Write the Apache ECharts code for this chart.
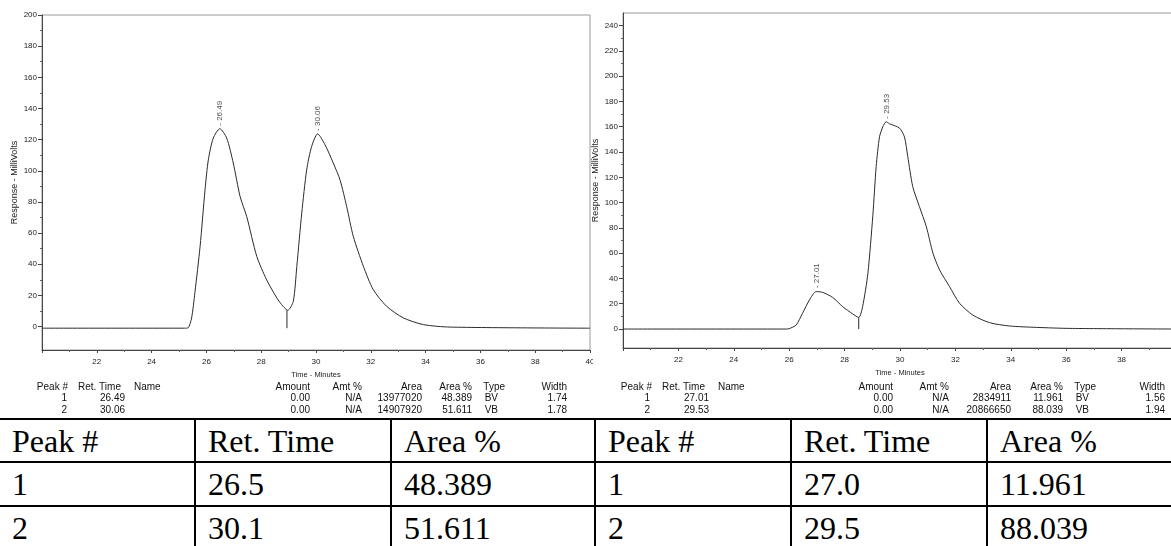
<!DOCTYPE html>
<html><head><meta charset="utf-8">
<script src="https://cdn.jsdelivr.net/npm/echarts@6/dist/echarts.min.js"></script>
<style>
html,body{margin:0;padding:0;background:#fff;overflow:hidden;width:1171px;height:546px;position:relative;}
#c1{position:absolute;left:0;top:0;width:593px;height:418px;overflow:hidden;}
#c2{position:absolute;left:563px;top:0;width:650px;height:418px;}
#tbl{position:absolute;left:-2px;top:418px;border-collapse:collapse;table-layout:fixed;font-family:'Liberation Serif','Times New Roman',serif;font-size:32px;color:#000;}
#tbl td{border:2px solid #000;padding:0 0 0 12px;white-space:nowrap;overflow:hidden;vertical-align:middle;line-height:1;}
</style></head>
<body>
<div id="c1"></div>
<div id="c2"></div>
<table id="tbl"></table>
<script>
// ---------- data: chromatogram 1 (left) ----------
const timeA = [20, 25.2, 25.33, 25.46, 25.58, 25.77, 25.95, 26.07, 26.25, 26.49, 26.74, 26.98, 27.23, 27.47, 27.84, 28.2, 28.57, 28.8, 28.97, 29.17, 29.3, 29.48, 29.66, 29.84, 30.06, 30.33, 30.63, 30.88, 31.12, 31.36, 31.73, 32.09, 32.58, 33.19, 33.92, 34.9, 40];
const respA = [-1, -1, -0.8, 5.6, 21.8, 51.5, 87.8, 107, 121, 127, 121, 105, 83.5, 70.7, 45, 30, 18.4, 13, 10.5, 16.2, 38.7, 72.9, 100.6, 115.6, 123.7, 116.7, 105, 94, 77, 58, 38.7, 23.7, 13, 5.6, 1.3, -0.3, -1];
const dropTimeA = 28.94, dropRespA = 10.5, baseA = -1;
const peakTimeA = [26.49, 30.06];
const peakRespA = [127, 123.7];

// ---------- data: chromatogram 2 (right) ----------
const timeB = [20, 25.9, 26.0, 26.25, 26.48, 26.73, 26.97, 27.21, 27.57, 27.93, 28.29, 28.51, 28.65, 28.84, 29.02, 29.14, 29.26, 29.38, 29.5, 29.62, 29.98, 30.16, 30.28, 30.46, 30.7, 30.95, 31.19, 31.43, 31.79, 32.15, 32.63, 33.24, 33.96, 34.93, 36.13, 40];
const respB = [0, 0, 0.3, 3.2, 12.4, 23, 29.6, 29, 25, 17.7, 12, 9.2, 17.7, 44, 90, 128.6, 152, 160, 164, 162.4, 159, 152, 136.5, 112.7, 96.9, 81, 60, 46.7, 33.5, 20.4, 11, 5, 2.4, 1.3, 0.5, 0];
const dropTimeB = 28.51, dropRespB = 9.2, baseB = 0;
const peakTimeB = [27.01, 29.53];
const peakRespB = [30, 164];

// ---------- printout tables ----------
const printHeaders = ['Peak #', 'Ret. Time', 'Name', 'Amount', 'Amt %', 'Area', 'Area %', 'Type', 'Width'];
const printPeak = ['1', '2'];
const printRetA = ['26.49', '30.06'];
const printAmountA = ['0.00', '0.00'];
const printAmtPctA = ['N/A', 'N/A'];
const printAreaA = ['13977020', '14907920'];
const printAreaPctA = ['48.389', '51.611'];
const printTypeA = ['BV', 'VB'];
const printWidthA = ['1.74', '1.78'];
const printRetB = ['27.01', '29.53'];
const printAmountB = ['0.00', '0.00'];
const printAmtPctB = ['N/A', 'N/A'];
const printAreaB = ['2834911', '20866650'];
const printAreaPctB = ['11.961', '88.039'];
const printTypeB = ['BV', 'VB'];
const printWidthB = ['1.56', '1.94'];

// ---------- summary table ----------
const tblHeader = ['Peak #', 'Ret. Time', 'Area %'];
const tblPeak = ['1', '2'];
const tblRetA = ['26.5', '30.1'];
const tblAreaA = ['48.389', '51.611'];
const tblRetB = ['27.0', '29.5'];
const tblAreaB = ['11.961', '88.039'];

const FONT = "'Liberation Sans', Arial, sans-serif";
const INK = '#222';

function txt(text, x, y, align, size) {
  return {type: 'text', x: x, y: y, silent: true,
    style: {text: text, font: (size || 10) + 'px ' + FONT, fill: '#111',
      align: align, textAlign: align, verticalAlign: 'middle', textVerticalAlign: 'middle'}};
}

function printout(cfg) {
  const g = [];
  const hx = cfg.hx, vx = cfg.vx, ha = ['right','left','left','right','right','right','right','right','right'];
  printHeaders.forEach((h, i) => g.push(txt(h, hx[i], 387, ha[i])));
  const cols = [printPeak, cfg.ret, null, cfg.amount, cfg.amtPct, cfg.area, cfg.areaPct, cfg.type, cfg.width];
  [398.5, 410].forEach((y, r) => {
    cols.forEach((col, i) => { if (col) g.push(txt(col[r], vx[i], y, 'right')); });
  });
  return g;
}

function makeOption(c) {
  const line = c.time.map((t, i) => [t, c.resp[i]]);
  const peaks = c.peakTime.map((t, i) => [t, c.peakResp[i]]);
  return {
    animation: false,
    textStyle: {fontFamily: FONT},
    grid: [
      {left: c.left, top: c.top, width: c.width, height: c.height, show: true, borderColor: '#9a9a9a', borderWidth: 1,
        containLabel: false, outerBoundsMode: 'none'},
      {left: c.left, top: c.axTop, width: c.width, height: c.axHeight, containLabel: false, outerBoundsMode: 'none'}
    ],
    xAxis: [
      {gridIndex: 0, type: 'value', min: 20, max: 40, interval: 2,
        axisLine: {show: true, onZero: false, lineStyle: {color: '#444', width: 1}},
        axisTick: {show: true, length: 3, lineStyle: {color: '#444'}},
        minorTick: {show: true, splitNumber: 2, length: 2, lineStyle: {color: '#666'}},
        splitLine: {show: false},
        axisLabel: {showMinLabel: false, fontSize: 8, color: INK, margin: 8},
        name: 'Time - Minutes', nameLocation: 'middle', nameGap: 21, nameMoveOverlap: false,
        nameTextStyle: {fontSize: 7.5, color: INK}},
      {gridIndex: 1, type: 'value', min: 20, max: 40, show: false}
    ],
    yAxis: [
      {gridIndex: 0, type: 'value', min: -15, max: c.yTop,
        axisLine: {show: true, onZero: false, lineStyle: {color: '#444'}},
        axisTick: {show: false}, axisLabel: {show: false}, splitLine: {show: false},
        name: 'Response - MilliVolts', nameLocation: 'middle', nameGap: 23, nameRotate: 90, nameMoveOverlap: false,
        nameTextStyle: {fontSize: 9, color: INK}},
      {gridIndex: 1, type: 'value', min: 0, max: c.yMax, interval: 20,
        axisLine: {show: false},
        axisTick: {show: true, length: 4, lineStyle: {color: '#444'}},
        minorTick: {show: true, splitNumber: 2, length: 2, lineStyle: {color: '#666'}},
        axisLabel: {fontSize: 8, color: INK, margin: 5},
        splitLine: {show: false}}
    ],
    series: [
      {type: 'line', xAxisIndex: 0, yAxisIndex: 0, data: line, symbol: 'none', smooth: 0.25,
        lineStyle: {color: '#2a2a2a', width: 1}},
      {type: 'line', xAxisIndex: 0, yAxisIndex: 0, data: [[c.dropTime, c.base], [c.dropTime, c.dropResp]],
        symbol: 'none', lineStyle: {color: '#2a2a2a', width: 1}},
      {type: 'scatter', xAxisIndex: 0, yAxisIndex: 0, data: peaks, symbolSize: 0,
        label: {show: true, position: 'top', distance: 3, rotate: 90, align: 'left', verticalAlign: 'middle',
          fontSize: 8, color: INK, formatter: p => '- ' + p.value[0].toFixed(2)}}
    ],
    graphic: printout(c.print)
  };
}

const chartA = echarts.init(document.getElementById('c1'), null, {renderer: 'canvas'});
chartA.setOption(makeOption({
  time: timeA, resp: respA, peakTime: peakTimeA, peakResp: peakRespA,
  dropTime: dropTimeA, dropResp: dropRespA, base: baseA,
  left: 42, top: 15, width: 548, height: 335, yTop: 200,
  axTop: 15, axHeight: 311.6, yMax: 200,
  print: {hx: [68, 78, 134, 310, 362, 422, 472, 505, 567], vx: [67, 125, 0, 310, 362, 422, 472, 498, 567],
    ret: printRetA, amount: printAmountA, amtPct: printAmtPctA, area: printAreaA,
    areaPct: printAreaPctA, type: printTypeA, width: printWidthA}
}));

const chartB = echarts.init(document.getElementById('c2'), null, {renderer: 'canvas'});
chartB.setOption(makeOption({
  time: timeB, resp: respB, peakTime: peakTimeB, peakResp: peakRespB,
  dropTime: dropTimeB, dropResp: dropRespB, base: baseB,
  left: 60, top: 13, width: 554, height: 335, yTop: 250,
  axTop: 25.6, axHeight: 303.4, yMax: 240,
  print: {hx: [89, 99, 155, 330, 386, 448, 500, 533, 602], vx: [87, 146, 0, 330, 386, 448, 500, 526, 602],
    ret: printRetB, amount: printAmountB, amtPct: printAmtPctB, area: printAreaB,
    areaPct: printAreaPctB, type: printTypeB, width: printWidthB}
}));

// ---------- summary table ----------
const colW = [196, 196, 204, 196, 196, 189];
const rowH = [43, 44, 44];
const tbl = document.getElementById('tbl');
const cg = document.createElement('colgroup');
colW.forEach(w => { const c = document.createElement('col'); c.style.width = w + 'px'; cg.appendChild(c); });
tbl.appendChild(cg);
const rows = [
  tblHeader.concat(tblHeader),
  [tblPeak[0], tblRetA[0], tblAreaA[0], tblPeak[0], tblRetB[0], tblAreaB[0]],
  [tblPeak[1], tblRetA[1], tblAreaA[1], tblPeak[1], tblRetB[1], tblAreaB[1]]
];
rows.forEach((r, ri) => {
  const tr = document.createElement('tr');
  tr.style.height = rowH[ri] + 'px';
  r.forEach(v => { const td = document.createElement('td'); td.textContent = v; tr.appendChild(td); });
  tbl.appendChild(tr);
});
tbl.style.width = colW.reduce((a, b) => a + b, 0) + 'px';
</script>
</body></html>
